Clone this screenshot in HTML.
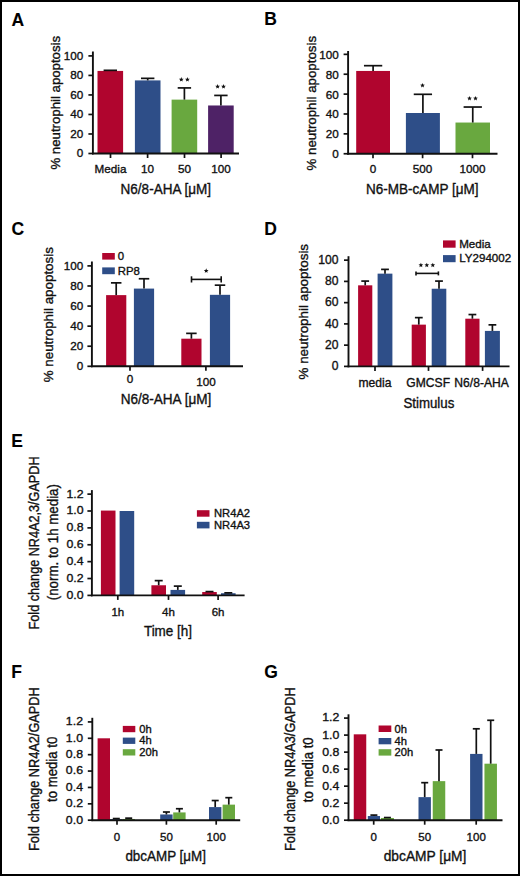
<!DOCTYPE html>
<html><head><meta charset="utf-8"><style>
html,body{margin:0;padding:0;background:#000;}
body{width:520px;height:876px;overflow:hidden;}
svg{display:block;}
text{font-family:"Liberation Sans", sans-serif;stroke:#111;stroke-width:0.35px;}
</style></head><body>
<svg width="520" height="876" viewBox="0 0 520 876">
<rect x="0" y="0" width="520" height="876" fill="#000"/>
<rect x="2" y="2" width="516" height="872" fill="#fff"/>
<text x="11.50" y="25.50" font-size="17.5" text-anchor="start" font-weight="bold" style="stroke-width:0.1px" fill="#000">A</text>
<rect x="97.50" y="70.93" width="25.60" height="82.57" fill="#b0052e"/>
<line x1="110.30" y1="70.93" x2="110.30" y2="70.34" stroke="#111" stroke-width="1.7"/>
<line x1="103.60" y1="70.34" x2="117.00" y2="70.34" stroke="#111" stroke-width="1.7"/>
<rect x="134.90" y="80.40" width="25.60" height="73.10" fill="#2e4e88"/>
<line x1="147.70" y1="80.40" x2="147.70" y2="78.35" stroke="#111" stroke-width="1.7"/>
<line x1="141.00" y1="78.35" x2="154.40" y2="78.35" stroke="#111" stroke-width="1.7"/>
<rect x="171.60" y="99.62" width="25.60" height="53.88" fill="#69a83f"/>
<line x1="184.40" y1="99.62" x2="184.40" y2="87.91" stroke="#111" stroke-width="1.7"/>
<line x1="177.70" y1="87.91" x2="191.10" y2="87.91" stroke="#111" stroke-width="1.7"/>
<rect x="208.10" y="105.48" width="25.60" height="48.02" fill="#4e2266"/>
<line x1="220.90" y1="105.48" x2="220.90" y2="95.43" stroke="#111" stroke-width="1.7"/>
<line x1="214.20" y1="95.43" x2="227.60" y2="95.43" stroke="#111" stroke-width="1.7"/>
<line x1="92.90" y1="51.50" x2="92.90" y2="154.40" stroke="#111" stroke-width="1.9"/>
<line x1="92.00" y1="153.50" x2="239.00" y2="153.50" stroke="#111" stroke-width="1.9"/>
<line x1="88.40" y1="153.50" x2="92.90" y2="153.50" stroke="#111" stroke-width="1.7"/>
<text x="83.20" y="157.30" font-size="11.7" text-anchor="end" font-weight="normal" fill="#111">0</text>
<line x1="88.40" y1="133.98" x2="92.90" y2="133.98" stroke="#111" stroke-width="1.7"/>
<text x="83.20" y="137.78" font-size="11.7" text-anchor="end" font-weight="normal" fill="#111">20</text>
<line x1="88.40" y1="114.46" x2="92.90" y2="114.46" stroke="#111" stroke-width="1.7"/>
<text x="83.20" y="118.26" font-size="11.7" text-anchor="end" font-weight="normal" fill="#111">40</text>
<line x1="88.40" y1="94.94" x2="92.90" y2="94.94" stroke="#111" stroke-width="1.7"/>
<text x="83.20" y="98.74" font-size="11.7" text-anchor="end" font-weight="normal" fill="#111">60</text>
<line x1="88.40" y1="75.42" x2="92.90" y2="75.42" stroke="#111" stroke-width="1.7"/>
<text x="83.20" y="79.22" font-size="11.7" text-anchor="end" font-weight="normal" fill="#111">80</text>
<line x1="88.40" y1="55.90" x2="92.90" y2="55.90" stroke="#111" stroke-width="1.7"/>
<text x="83.20" y="59.70" font-size="11.7" text-anchor="end" font-weight="normal" fill="#111">100</text>
<line x1="110.50" y1="153.50" x2="110.50" y2="158.00" stroke="#111" stroke-width="1.7"/>
<text x="110.50" y="173.40" font-size="11.7" text-anchor="middle" font-weight="normal" fill="#111">Media</text>
<line x1="147.60" y1="153.50" x2="147.60" y2="158.00" stroke="#111" stroke-width="1.7"/>
<text x="147.60" y="173.40" font-size="11.7" text-anchor="middle" font-weight="normal" fill="#111">10</text>
<line x1="184.50" y1="153.50" x2="184.50" y2="158.00" stroke="#111" stroke-width="1.7"/>
<text x="184.50" y="173.40" font-size="11.7" text-anchor="middle" font-weight="normal" fill="#111">50</text>
<line x1="221.10" y1="153.50" x2="221.10" y2="158.00" stroke="#111" stroke-width="1.7"/>
<text x="221.10" y="173.40" font-size="11.7" text-anchor="middle" font-weight="normal" fill="#111">100</text>
<text x="120.60" y="193.70" font-size="14" text-anchor="start" font-weight="normal" textLength="90.39" lengthAdjust="spacingAndGlyphs" fill="#111">N6/8-AHA [μM]</text>
<text x="60.30" y="169.55" font-size="13.3" text-anchor="start" font-weight="normal" transform="rotate(-90 60.30 169.55)" textLength="133.67" lengthAdjust="spacingAndGlyphs" fill="#111">% neutrophil apoptosis</text>
<polygon points="181.30,77.10 181.95,78.71 183.68,78.83 182.35,79.94 182.77,81.62 181.30,80.70 179.83,81.62 180.25,79.94 178.92,78.83 180.65,78.71" fill="#111"/>
<polygon points="187.40,77.10 188.05,78.71 189.78,78.83 188.45,79.94 188.87,81.62 187.40,80.70 185.93,81.62 186.35,79.94 185.02,78.83 186.75,78.71" fill="#111"/>
<polygon points="217.60,84.10 218.25,85.71 219.98,85.83 218.65,86.94 219.07,88.62 217.60,87.70 216.13,88.62 216.55,86.94 215.22,85.83 216.95,85.71" fill="#111"/>
<polygon points="223.50,84.10 224.15,85.71 225.88,85.83 224.55,86.94 224.97,88.62 223.50,87.70 222.03,88.62 222.45,86.94 221.12,85.83 222.85,85.71" fill="#111"/>
<text x="264.20" y="25.40" font-size="17.5" text-anchor="start" font-weight="bold" style="stroke-width:0.1px" fill="#000">B</text>
<rect x="356.20" y="70.95" width="33.80" height="82.80" fill="#b0052e"/>
<line x1="373.10" y1="70.95" x2="373.10" y2="65.68" stroke="#111" stroke-width="1.7"/>
<line x1="363.95" y1="65.68" x2="382.25" y2="65.68" stroke="#111" stroke-width="1.7"/>
<rect x="405.90" y="113.00" width="34.00" height="40.75" fill="#2e4e88"/>
<line x1="422.90" y1="113.00" x2="422.90" y2="94.31" stroke="#111" stroke-width="1.7"/>
<line x1="413.75" y1="94.31" x2="432.05" y2="94.31" stroke="#111" stroke-width="1.7"/>
<rect x="455.50" y="122.54" width="34.50" height="31.21" fill="#69a83f"/>
<line x1="472.75" y1="122.54" x2="472.75" y2="107.03" stroke="#111" stroke-width="1.7"/>
<line x1="463.60" y1="107.03" x2="481.90" y2="107.03" stroke="#111" stroke-width="1.7"/>
<line x1="348.10" y1="51.00" x2="348.10" y2="154.65" stroke="#111" stroke-width="1.9"/>
<line x1="347.20" y1="153.75" x2="497.50" y2="153.75" stroke="#111" stroke-width="1.9"/>
<line x1="343.60" y1="153.75" x2="348.10" y2="153.75" stroke="#111" stroke-width="1.7"/>
<text x="338.80" y="158.15" font-size="11.7" text-anchor="end" font-weight="normal" fill="#111">0</text>
<line x1="343.60" y1="133.87" x2="348.10" y2="133.87" stroke="#111" stroke-width="1.7"/>
<text x="338.80" y="138.27" font-size="11.7" text-anchor="end" font-weight="normal" fill="#111">20</text>
<line x1="343.60" y1="113.99" x2="348.10" y2="113.99" stroke="#111" stroke-width="1.7"/>
<text x="338.80" y="118.39" font-size="11.7" text-anchor="end" font-weight="normal" fill="#111">40</text>
<line x1="343.60" y1="94.11" x2="348.10" y2="94.11" stroke="#111" stroke-width="1.7"/>
<text x="338.80" y="98.51" font-size="11.7" text-anchor="end" font-weight="normal" fill="#111">60</text>
<line x1="343.60" y1="74.23" x2="348.10" y2="74.23" stroke="#111" stroke-width="1.7"/>
<text x="338.80" y="78.63" font-size="11.7" text-anchor="end" font-weight="normal" fill="#111">80</text>
<line x1="343.60" y1="54.35" x2="348.10" y2="54.35" stroke="#111" stroke-width="1.7"/>
<text x="338.80" y="58.75" font-size="11.7" text-anchor="end" font-weight="normal" fill="#111">100</text>
<line x1="373.00" y1="153.75" x2="373.00" y2="158.25" stroke="#111" stroke-width="1.7"/>
<text x="373.00" y="173.40" font-size="11.7" text-anchor="middle" font-weight="normal" fill="#111">0</text>
<line x1="422.60" y1="153.75" x2="422.60" y2="158.25" stroke="#111" stroke-width="1.7"/>
<text x="422.60" y="173.40" font-size="11.7" text-anchor="middle" font-weight="normal" fill="#111">500</text>
<line x1="472.50" y1="153.75" x2="472.50" y2="158.25" stroke="#111" stroke-width="1.7"/>
<text x="472.50" y="173.40" font-size="11.7" text-anchor="middle" font-weight="normal" fill="#111">1000</text>
<text x="366.10" y="193.90" font-size="14" text-anchor="start" font-weight="normal" textLength="112.52" lengthAdjust="spacingAndGlyphs" fill="#111">N6-MB-cAMP [μM]</text>
<text x="316.00" y="170.55" font-size="13.3" text-anchor="start" font-weight="normal" transform="rotate(-90 316.00 170.55)" textLength="134.67" lengthAdjust="spacingAndGlyphs" fill="#111">% neutrophil apoptosis</text>
<polygon points="422.50,83.00 423.15,84.61 424.88,84.73 423.55,85.84 423.97,87.52 422.50,86.60 421.03,87.52 421.45,85.84 420.12,84.73 421.85,84.61" fill="#111"/>
<polygon points="469.50,96.00 470.15,97.61 471.88,97.73 470.55,98.84 470.97,100.52 469.50,99.60 468.03,100.52 468.45,98.84 467.12,97.73 468.85,97.61" fill="#111"/>
<polygon points="475.50,96.00 476.15,97.61 477.88,97.73 476.55,98.84 476.97,100.52 475.50,99.60 474.03,100.52 474.45,98.84 473.12,97.73 474.85,97.61" fill="#111"/>
<text x="11.60" y="235.30" font-size="17.5" text-anchor="start" font-weight="bold" style="stroke-width:0.1px" fill="#000">C</text>
<rect x="106.10" y="295.12" width="20.20" height="71.18" fill="#b0052e"/>
<line x1="116.20" y1="295.12" x2="116.20" y2="282.87" stroke="#111" stroke-width="1.7"/>
<line x1="110.95" y1="282.87" x2="121.45" y2="282.87" stroke="#111" stroke-width="1.7"/>
<rect x="133.90" y="288.59" width="20.20" height="77.71" fill="#2e4e88"/>
<line x1="144.00" y1="288.59" x2="144.00" y2="278.75" stroke="#111" stroke-width="1.7"/>
<line x1="138.75" y1="278.75" x2="149.25" y2="278.75" stroke="#111" stroke-width="1.7"/>
<rect x="181.30" y="338.69" width="20.20" height="27.61" fill="#b0052e"/>
<line x1="191.40" y1="338.69" x2="191.40" y2="333.37" stroke="#111" stroke-width="1.7"/>
<line x1="186.15" y1="333.37" x2="196.65" y2="333.37" stroke="#111" stroke-width="1.7"/>
<rect x="209.90" y="294.82" width="20.20" height="71.48" fill="#2e4e88"/>
<line x1="220.00" y1="294.82" x2="220.00" y2="285.18" stroke="#111" stroke-width="1.7"/>
<line x1="214.75" y1="285.18" x2="225.25" y2="285.18" stroke="#111" stroke-width="1.7"/>
<line x1="91.90" y1="261.50" x2="91.90" y2="367.20" stroke="#111" stroke-width="1.9"/>
<line x1="91.00" y1="366.30" x2="243.00" y2="366.30" stroke="#111" stroke-width="1.9"/>
<line x1="87.40" y1="366.30" x2="91.90" y2="366.30" stroke="#111" stroke-width="1.7"/>
<text x="83.30" y="370.10" font-size="11.7" text-anchor="end" font-weight="normal" fill="#111">0</text>
<line x1="87.40" y1="346.22" x2="91.90" y2="346.22" stroke="#111" stroke-width="1.7"/>
<text x="83.30" y="350.02" font-size="11.7" text-anchor="end" font-weight="normal" fill="#111">20</text>
<line x1="87.40" y1="326.14" x2="91.90" y2="326.14" stroke="#111" stroke-width="1.7"/>
<text x="83.30" y="329.94" font-size="11.7" text-anchor="end" font-weight="normal" fill="#111">40</text>
<line x1="87.40" y1="306.06" x2="91.90" y2="306.06" stroke="#111" stroke-width="1.7"/>
<text x="83.30" y="309.86" font-size="11.7" text-anchor="end" font-weight="normal" fill="#111">60</text>
<line x1="87.40" y1="285.98" x2="91.90" y2="285.98" stroke="#111" stroke-width="1.7"/>
<text x="83.30" y="289.78" font-size="11.7" text-anchor="end" font-weight="normal" fill="#111">80</text>
<line x1="87.40" y1="265.90" x2="91.90" y2="265.90" stroke="#111" stroke-width="1.7"/>
<text x="83.30" y="269.70" font-size="11.7" text-anchor="end" font-weight="normal" fill="#111">100</text>
<line x1="130.00" y1="366.30" x2="130.00" y2="370.80" stroke="#111" stroke-width="1.7"/>
<text x="130.00" y="383.20" font-size="11.7" text-anchor="middle" font-weight="normal" fill="#111">0</text>
<line x1="205.90" y1="366.30" x2="205.90" y2="370.80" stroke="#111" stroke-width="1.7"/>
<text x="205.90" y="386.40" font-size="11.7" text-anchor="middle" font-weight="normal" fill="#111">100</text>
<text x="120.65" y="403.80" font-size="14" text-anchor="start" font-weight="normal" textLength="90.69" lengthAdjust="spacingAndGlyphs" fill="#111">N6/8-AHA [μM]</text>
<text x="52.60" y="382.30" font-size="13.3" text-anchor="start" font-weight="normal" transform="rotate(-90 52.60 382.30)" textLength="135.17" lengthAdjust="spacingAndGlyphs" fill="#111">% neutrophil apoptosis</text>
<polygon points="206.20,268.35 206.85,269.96 208.58,270.08 207.25,271.19 207.67,272.87 206.20,271.95 204.73,272.87 205.15,271.19 203.82,270.08 205.55,269.96" fill="#111"/>
<rect x="102.20" y="253.00" width="12.60" height="6.60" fill="#b0052e"/>
<text x="117.70" y="260.00" font-size="11.4" text-anchor="start" font-weight="normal" fill="#111">0</text>
<rect x="102.20" y="267.40" width="12.60" height="6.80" fill="#2e4e88"/>
<text x="117.70" y="274.50" font-size="11.4" text-anchor="start" font-weight="normal" fill="#111">RP8</text>
<line x1="191.50" y1="279.40" x2="221.20" y2="279.40" stroke="#111" stroke-width="1.6"/>
<line x1="191.50" y1="276.30" x2="191.50" y2="282.50" stroke="#111" stroke-width="1.6"/>
<line x1="221.20" y1="276.30" x2="221.20" y2="282.50" stroke="#111" stroke-width="1.6"/>
<text x="264.20" y="235.30" font-size="17.5" text-anchor="start" font-weight="bold" style="stroke-width:0.1px" fill="#000">D</text>
<rect x="358.10" y="285.33" width="14.20" height="81.07" fill="#b0052e"/>
<line x1="365.20" y1="285.33" x2="365.20" y2="281.08" stroke="#111" stroke-width="1.7"/>
<line x1="361.30" y1="281.08" x2="369.10" y2="281.08" stroke="#111" stroke-width="1.7"/>
<rect x="377.60" y="273.64" width="14.80" height="92.76" fill="#2e4e88"/>
<line x1="385.00" y1="273.64" x2="385.00" y2="269.39" stroke="#111" stroke-width="1.7"/>
<line x1="381.10" y1="269.39" x2="388.90" y2="269.39" stroke="#111" stroke-width="1.7"/>
<rect x="411.70" y="324.64" width="14.20" height="41.76" fill="#b0052e"/>
<line x1="418.80" y1="324.64" x2="418.80" y2="317.63" stroke="#111" stroke-width="1.7"/>
<line x1="414.90" y1="317.63" x2="422.70" y2="317.63" stroke="#111" stroke-width="1.7"/>
<rect x="431.70" y="288.73" width="14.60" height="77.67" fill="#2e4e88"/>
<line x1="439.00" y1="288.73" x2="439.00" y2="281.08" stroke="#111" stroke-width="1.7"/>
<line x1="435.10" y1="281.08" x2="442.90" y2="281.08" stroke="#111" stroke-width="1.7"/>
<rect x="465.30" y="318.69" width="14.20" height="47.71" fill="#b0052e"/>
<line x1="472.40" y1="318.69" x2="472.40" y2="314.55" stroke="#111" stroke-width="1.7"/>
<line x1="468.50" y1="314.55" x2="476.30" y2="314.55" stroke="#111" stroke-width="1.7"/>
<rect x="484.90" y="330.91" width="15.00" height="35.49" fill="#2e4e88"/>
<line x1="492.40" y1="330.91" x2="492.40" y2="324.86" stroke="#111" stroke-width="1.7"/>
<line x1="488.50" y1="324.86" x2="496.30" y2="324.86" stroke="#111" stroke-width="1.7"/>
<line x1="348.50" y1="256.20" x2="348.50" y2="367.30" stroke="#111" stroke-width="1.9"/>
<line x1="347.60" y1="366.40" x2="509.50" y2="366.40" stroke="#111" stroke-width="1.9"/>
<line x1="344.00" y1="366.40" x2="348.50" y2="366.40" stroke="#111" stroke-width="1.7"/>
<text x="338.50" y="370.20" font-size="12.1" text-anchor="end" font-weight="normal" fill="#111">0</text>
<line x1="344.00" y1="345.15" x2="348.50" y2="345.15" stroke="#111" stroke-width="1.7"/>
<text x="338.50" y="348.95" font-size="12.1" text-anchor="end" font-weight="normal" fill="#111">20</text>
<line x1="344.00" y1="323.90" x2="348.50" y2="323.90" stroke="#111" stroke-width="1.7"/>
<text x="338.50" y="327.70" font-size="12.1" text-anchor="end" font-weight="normal" fill="#111">40</text>
<line x1="344.00" y1="302.65" x2="348.50" y2="302.65" stroke="#111" stroke-width="1.7"/>
<text x="338.50" y="306.45" font-size="12.1" text-anchor="end" font-weight="normal" fill="#111">60</text>
<line x1="344.00" y1="281.40" x2="348.50" y2="281.40" stroke="#111" stroke-width="1.7"/>
<text x="338.50" y="285.20" font-size="12.1" text-anchor="end" font-weight="normal" fill="#111">80</text>
<line x1="344.00" y1="260.15" x2="348.50" y2="260.15" stroke="#111" stroke-width="1.7"/>
<text x="338.50" y="263.95" font-size="12.1" text-anchor="end" font-weight="normal" fill="#111">100</text>
<line x1="375.00" y1="366.40" x2="375.00" y2="370.90" stroke="#111" stroke-width="1.7"/>
<text x="375.00" y="386.70" font-size="12.1" text-anchor="middle" font-weight="normal" fill="#111">media</text>
<line x1="428.50" y1="366.40" x2="428.50" y2="370.90" stroke="#111" stroke-width="1.7"/>
<text x="428.20" y="386.70" font-size="12.1" text-anchor="middle" font-weight="normal" fill="#111">GMCSF</text>
<line x1="482.60" y1="366.40" x2="482.60" y2="370.90" stroke="#111" stroke-width="1.7"/>
<text x="481.60" y="386.70" font-size="12.1" text-anchor="middle" font-weight="normal" fill="#111">N6/8-AHA</text>
<text x="403.40" y="407.50" font-size="14" text-anchor="start" font-weight="normal" textLength="50.89" lengthAdjust="spacingAndGlyphs" fill="#111">Stimulus</text>
<text x="308.30" y="379.50" font-size="13.3" text-anchor="start" font-weight="normal" transform="rotate(-90 308.30 379.50)" textLength="135.57" lengthAdjust="spacingAndGlyphs" fill="#111">% neutrophil apoptosis</text>
<polygon points="420.90,262.70 421.55,264.31 423.28,264.43 421.95,265.54 422.37,267.22 420.90,266.30 419.43,267.22 419.85,265.54 418.52,264.43 420.25,264.31" fill="#111"/>
<polygon points="426.80,262.70 427.45,264.31 429.18,264.43 427.85,265.54 428.27,267.22 426.80,266.30 425.33,267.22 425.75,265.54 424.42,264.43 426.15,264.31" fill="#111"/>
<polygon points="432.80,262.70 433.45,264.31 435.18,264.43 433.85,265.54 434.27,267.22 432.80,266.30 431.33,267.22 431.75,265.54 430.42,264.43 432.15,264.31" fill="#111"/>
<rect x="443.00" y="240.40" width="12.60" height="7.30" fill="#b0052e"/>
<text x="459.20" y="247.50" font-size="11.6" text-anchor="start" font-weight="normal" fill="#111">Media</text>
<rect x="443.00" y="255.10" width="12.60" height="7.10" fill="#2e4e88"/>
<text x="459.20" y="262.00" font-size="11.6" text-anchor="start" font-weight="normal" fill="#111">LY294002</text>
<line x1="416.00" y1="273.40" x2="438.40" y2="273.40" stroke="#111" stroke-width="1.6"/>
<line x1="416.00" y1="271.40" x2="416.00" y2="275.40" stroke="#111" stroke-width="1.6"/>
<line x1="438.40" y1="271.40" x2="438.40" y2="275.40" stroke="#111" stroke-width="1.6"/>
<text x="11.20" y="446.70" font-size="17.5" text-anchor="start" font-weight="bold" style="stroke-width:0.1px" fill="#000">E</text>
<rect x="100.90" y="510.58" width="14.60" height="84.82" fill="#b0052e"/>
<rect x="119.60" y="511.00" width="14.60" height="84.40" fill="#2e4e88"/>
<rect x="151.40" y="585.27" width="14.60" height="10.13" fill="#b0052e"/>
<line x1="158.70" y1="585.27" x2="158.70" y2="580.63" stroke="#111" stroke-width="1.7"/>
<line x1="154.70" y1="580.63" x2="162.70" y2="580.63" stroke="#111" stroke-width="1.7"/>
<rect x="170.50" y="589.91" width="14.60" height="5.49" fill="#2e4e88"/>
<line x1="177.80" y1="589.91" x2="177.80" y2="586.12" stroke="#111" stroke-width="1.7"/>
<line x1="173.80" y1="586.12" x2="181.80" y2="586.12" stroke="#111" stroke-width="1.7"/>
<rect x="202.20" y="592.02" width="14.60" height="3.38" fill="#b0052e"/>
<line x1="209.50" y1="592.02" x2="209.50" y2="591.60" stroke="#111" stroke-width="1.7"/>
<line x1="205.50" y1="591.60" x2="213.50" y2="591.60" stroke="#111" stroke-width="1.7"/>
<rect x="221.00" y="593.21" width="14.60" height="2.19" fill="#2e4e88"/>
<line x1="228.30" y1="593.21" x2="228.30" y2="592.87" stroke="#111" stroke-width="1.7"/>
<line x1="224.30" y1="592.87" x2="232.30" y2="592.87" stroke="#111" stroke-width="1.7"/>
<line x1="91.90" y1="490.10" x2="91.90" y2="596.30" stroke="#111" stroke-width="1.9"/>
<line x1="91.00" y1="595.40" x2="244.60" y2="595.40" stroke="#111" stroke-width="1.9"/>
<line x1="87.40" y1="595.40" x2="91.90" y2="595.40" stroke="#111" stroke-width="1.7"/>
<text x="83.60" y="598.80" font-size="11.5" text-anchor="end" font-weight="normal" textLength="17.11" lengthAdjust="spacingAndGlyphs" fill="#111">0.0</text>
<line x1="87.40" y1="578.52" x2="91.90" y2="578.52" stroke="#111" stroke-width="1.7"/>
<text x="83.60" y="581.92" font-size="11.5" text-anchor="end" font-weight="normal" textLength="17.11" lengthAdjust="spacingAndGlyphs" fill="#111">0.2</text>
<line x1="87.40" y1="561.64" x2="91.90" y2="561.64" stroke="#111" stroke-width="1.7"/>
<text x="83.60" y="565.04" font-size="11.5" text-anchor="end" font-weight="normal" textLength="17.11" lengthAdjust="spacingAndGlyphs" fill="#111">0.4</text>
<line x1="87.40" y1="544.76" x2="91.90" y2="544.76" stroke="#111" stroke-width="1.7"/>
<text x="83.60" y="548.16" font-size="11.5" text-anchor="end" font-weight="normal" textLength="17.11" lengthAdjust="spacingAndGlyphs" fill="#111">0.6</text>
<line x1="87.40" y1="527.88" x2="91.90" y2="527.88" stroke="#111" stroke-width="1.7"/>
<text x="83.60" y="531.28" font-size="11.5" text-anchor="end" font-weight="normal" textLength="17.11" lengthAdjust="spacingAndGlyphs" fill="#111">0.8</text>
<line x1="87.40" y1="511.00" x2="91.90" y2="511.00" stroke="#111" stroke-width="1.7"/>
<text x="83.60" y="514.40" font-size="11.5" text-anchor="end" font-weight="normal" textLength="17.11" lengthAdjust="spacingAndGlyphs" fill="#111">1.0</text>
<line x1="87.40" y1="494.12" x2="91.90" y2="494.12" stroke="#111" stroke-width="1.7"/>
<text x="83.60" y="497.52" font-size="11.5" text-anchor="end" font-weight="normal" textLength="17.11" lengthAdjust="spacingAndGlyphs" fill="#111">1.2</text>
<line x1="117.80" y1="595.40" x2="117.80" y2="599.90" stroke="#111" stroke-width="1.7"/>
<text x="117.80" y="615.90" font-size="11.5" text-anchor="middle" font-weight="normal" fill="#111">1h</text>
<line x1="168.50" y1="595.40" x2="168.50" y2="599.90" stroke="#111" stroke-width="1.7"/>
<text x="168.50" y="615.90" font-size="11.5" text-anchor="middle" font-weight="normal" fill="#111">4h</text>
<line x1="218.10" y1="595.40" x2="218.10" y2="599.90" stroke="#111" stroke-width="1.7"/>
<text x="218.10" y="615.90" font-size="11.5" text-anchor="middle" font-weight="normal" fill="#111">6h</text>
<text x="143.90" y="636.00" font-size="14" text-anchor="start" font-weight="normal" textLength="48.20" lengthAdjust="spacingAndGlyphs" fill="#111">Time [h]</text>
<text x="39.20" y="629.40" font-size="14.4" text-anchor="start" font-weight="normal" transform="rotate(-90 39.20 629.40)" textLength="172.98" lengthAdjust="spacingAndGlyphs" fill="#111">Fold change NR4A2,3/GAPDH</text>
<text x="57.50" y="600.25" font-size="14.2" text-anchor="start" font-weight="normal" transform="rotate(-90 57.50 600.25)" textLength="116.21" lengthAdjust="spacingAndGlyphs" fill="#111">(norm. to 1h media)</text>
<rect x="196.90" y="510.20" width="12.60" height="6.50" fill="#b0052e"/>
<text x="214.00" y="517.40" font-size="11.2" text-anchor="start" font-weight="normal" fill="#111">NR4A2</text>
<rect x="196.90" y="521.80" width="12.60" height="6.60" fill="#2e4e88"/>
<text x="214.00" y="528.70" font-size="11.2" text-anchor="start" font-weight="normal" fill="#111">NR4A3</text>
<text x="11.20" y="678.40" font-size="17.5" text-anchor="start" font-weight="bold" style="stroke-width:0.1px" fill="#000">F</text>
<rect x="97.60" y="738.30" width="12.40" height="81.90" fill="#b0052e"/>
<rect x="110.10" y="819.22" width="12.40" height="0.98" fill="#2e4e88"/>
<line x1="116.30" y1="819.22" x2="116.30" y2="818.56" stroke="#111" stroke-width="1.7"/>
<line x1="112.80" y1="818.56" x2="119.80" y2="818.56" stroke="#111" stroke-width="1.7"/>
<rect x="122.50" y="818.97" width="12.40" height="1.23" fill="#69a83f"/>
<line x1="128.70" y1="818.97" x2="128.70" y2="818.15" stroke="#111" stroke-width="1.7"/>
<line x1="125.20" y1="818.15" x2="132.20" y2="818.15" stroke="#111" stroke-width="1.7"/>
<rect x="160.20" y="814.47" width="12.40" height="5.73" fill="#2e4e88"/>
<line x1="166.40" y1="814.47" x2="166.40" y2="812.01" stroke="#111" stroke-width="1.7"/>
<line x1="162.90" y1="812.01" x2="169.90" y2="812.01" stroke="#111" stroke-width="1.7"/>
<rect x="173.20" y="812.42" width="12.40" height="7.78" fill="#69a83f"/>
<line x1="179.40" y1="812.42" x2="179.40" y2="808.73" stroke="#111" stroke-width="1.7"/>
<line x1="175.90" y1="808.73" x2="182.90" y2="808.73" stroke="#111" stroke-width="1.7"/>
<rect x="209.00" y="807.10" width="12.40" height="13.10" fill="#2e4e88"/>
<line x1="215.20" y1="807.10" x2="215.20" y2="800.54" stroke="#111" stroke-width="1.7"/>
<line x1="211.70" y1="800.54" x2="218.70" y2="800.54" stroke="#111" stroke-width="1.7"/>
<rect x="222.60" y="804.64" width="12.40" height="15.56" fill="#69a83f"/>
<line x1="228.80" y1="804.64" x2="228.80" y2="797.68" stroke="#111" stroke-width="1.7"/>
<line x1="225.30" y1="797.68" x2="232.30" y2="797.68" stroke="#111" stroke-width="1.7"/>
<line x1="92.30" y1="717.80" x2="92.30" y2="821.10" stroke="#111" stroke-width="1.9"/>
<line x1="91.40" y1="820.20" x2="240.20" y2="820.20" stroke="#111" stroke-width="1.9"/>
<line x1="87.80" y1="820.20" x2="92.30" y2="820.20" stroke="#111" stroke-width="1.7"/>
<text x="83.00" y="823.60" font-size="11.5" text-anchor="end" font-weight="normal" textLength="17.11" lengthAdjust="spacingAndGlyphs" fill="#111">0.0</text>
<line x1="87.80" y1="803.82" x2="92.30" y2="803.82" stroke="#111" stroke-width="1.7"/>
<text x="83.00" y="807.22" font-size="11.5" text-anchor="end" font-weight="normal" textLength="17.11" lengthAdjust="spacingAndGlyphs" fill="#111">0.2</text>
<line x1="87.80" y1="787.44" x2="92.30" y2="787.44" stroke="#111" stroke-width="1.7"/>
<text x="83.00" y="790.84" font-size="11.5" text-anchor="end" font-weight="normal" textLength="17.11" lengthAdjust="spacingAndGlyphs" fill="#111">0.4</text>
<line x1="87.80" y1="771.06" x2="92.30" y2="771.06" stroke="#111" stroke-width="1.7"/>
<text x="83.00" y="774.46" font-size="11.5" text-anchor="end" font-weight="normal" textLength="17.11" lengthAdjust="spacingAndGlyphs" fill="#111">0.6</text>
<line x1="87.80" y1="754.68" x2="92.30" y2="754.68" stroke="#111" stroke-width="1.7"/>
<text x="83.00" y="758.08" font-size="11.5" text-anchor="end" font-weight="normal" textLength="17.11" lengthAdjust="spacingAndGlyphs" fill="#111">0.8</text>
<line x1="87.80" y1="738.30" x2="92.30" y2="738.30" stroke="#111" stroke-width="1.7"/>
<text x="83.00" y="741.70" font-size="11.5" text-anchor="end" font-weight="normal" textLength="17.11" lengthAdjust="spacingAndGlyphs" fill="#111">1.0</text>
<line x1="87.80" y1="721.92" x2="92.30" y2="721.92" stroke="#111" stroke-width="1.7"/>
<text x="83.00" y="725.32" font-size="11.5" text-anchor="end" font-weight="normal" textLength="17.11" lengthAdjust="spacingAndGlyphs" fill="#111">1.2</text>
<line x1="117.00" y1="820.20" x2="117.00" y2="824.70" stroke="#111" stroke-width="1.7"/>
<text x="117.00" y="840.90" font-size="11.5" text-anchor="middle" font-weight="normal" fill="#111">0</text>
<line x1="166.40" y1="820.20" x2="166.40" y2="824.70" stroke="#111" stroke-width="1.7"/>
<text x="166.40" y="840.90" font-size="11.5" text-anchor="middle" font-weight="normal" fill="#111">50</text>
<line x1="216.20" y1="820.20" x2="216.20" y2="824.70" stroke="#111" stroke-width="1.7"/>
<text x="216.20" y="840.90" font-size="11.5" text-anchor="middle" font-weight="normal" fill="#111">100</text>
<text x="125.40" y="861.10" font-size="14" text-anchor="start" font-weight="normal" textLength="80.59" lengthAdjust="spacingAndGlyphs" fill="#111">dbcAMP [μM]</text>
<text x="39.30" y="850.95" font-size="14.4" text-anchor="start" font-weight="normal" transform="rotate(-90 39.30 850.95)" textLength="163.70" lengthAdjust="spacingAndGlyphs" fill="#111">Fold change NR4A2/GAPDH</text>
<text x="57.20" y="801.95" font-size="14.2" text-anchor="start" font-weight="normal" transform="rotate(-90 57.20 801.95)" textLength="65.23" lengthAdjust="spacingAndGlyphs" fill="#111">to media t0</text>
<rect x="122.80" y="725.90" width="12.50" height="6.30" fill="#b0052e"/>
<text x="139.30" y="732.70" font-size="11.2" text-anchor="start" font-weight="normal" fill="#111">0h</text>
<rect x="122.80" y="737.60" width="12.50" height="6.30" fill="#2e4e88"/>
<text x="139.30" y="744.30" font-size="11.2" text-anchor="start" font-weight="normal" fill="#111">4h</text>
<rect x="122.80" y="749.20" width="12.50" height="6.30" fill="#69a83f"/>
<text x="139.30" y="756.00" font-size="11.2" text-anchor="start" font-weight="normal" fill="#111">20h</text>
<text x="264.30" y="678.20" font-size="17.5" text-anchor="start" font-weight="bold" style="stroke-width:0.1px" fill="#000">G</text>
<rect x="353.75" y="734.33" width="12.50" height="85.87" fill="#b0052e"/>
<rect x="367.80" y="816.03" width="12.20" height="4.17" fill="#2e4e88"/>
<line x1="373.90" y1="816.03" x2="373.90" y2="815.09" stroke="#111" stroke-width="1.7"/>
<line x1="370.40" y1="815.09" x2="377.40" y2="815.09" stroke="#111" stroke-width="1.7"/>
<rect x="380.90" y="817.99" width="13.00" height="2.21" fill="#69a83f"/>
<line x1="387.40" y1="817.99" x2="387.40" y2="817.56" stroke="#111" stroke-width="1.7"/>
<line x1="383.90" y1="817.56" x2="390.90" y2="817.56" stroke="#111" stroke-width="1.7"/>
<rect x="418.50" y="797.14" width="12.40" height="23.06" fill="#2e4e88"/>
<line x1="424.70" y1="797.14" x2="424.70" y2="782.67" stroke="#111" stroke-width="1.7"/>
<line x1="421.20" y1="782.67" x2="428.20" y2="782.67" stroke="#111" stroke-width="1.7"/>
<rect x="432.75" y="781.14" width="12.50" height="39.06" fill="#69a83f"/>
<line x1="439.00" y1="781.14" x2="439.00" y2="749.99" stroke="#111" stroke-width="1.7"/>
<line x1="435.50" y1="749.99" x2="442.50" y2="749.99" stroke="#111" stroke-width="1.7"/>
<rect x="470.10" y="753.91" width="12.40" height="66.29" fill="#2e4e88"/>
<line x1="476.30" y1="753.91" x2="476.30" y2="728.80" stroke="#111" stroke-width="1.7"/>
<line x1="472.80" y1="728.80" x2="479.80" y2="728.80" stroke="#111" stroke-width="1.7"/>
<rect x="484.45" y="763.69" width="12.50" height="56.51" fill="#69a83f"/>
<line x1="490.70" y1="763.69" x2="490.70" y2="720.29" stroke="#111" stroke-width="1.7"/>
<line x1="487.20" y1="720.29" x2="494.20" y2="720.29" stroke="#111" stroke-width="1.7"/>
<line x1="348.50" y1="714.30" x2="348.50" y2="821.10" stroke="#111" stroke-width="1.9"/>
<line x1="347.60" y1="820.20" x2="502.50" y2="820.20" stroke="#111" stroke-width="1.9"/>
<line x1="344.00" y1="820.20" x2="348.50" y2="820.20" stroke="#111" stroke-width="1.7"/>
<text x="339.30" y="823.60" font-size="11.5" text-anchor="end" font-weight="normal" textLength="17.11" lengthAdjust="spacingAndGlyphs" fill="#111">0.0</text>
<line x1="344.00" y1="803.18" x2="348.50" y2="803.18" stroke="#111" stroke-width="1.7"/>
<text x="339.30" y="806.58" font-size="11.5" text-anchor="end" font-weight="normal" textLength="17.11" lengthAdjust="spacingAndGlyphs" fill="#111">0.2</text>
<line x1="344.00" y1="786.16" x2="348.50" y2="786.16" stroke="#111" stroke-width="1.7"/>
<text x="339.30" y="789.56" font-size="11.5" text-anchor="end" font-weight="normal" textLength="17.11" lengthAdjust="spacingAndGlyphs" fill="#111">0.4</text>
<line x1="344.00" y1="769.14" x2="348.50" y2="769.14" stroke="#111" stroke-width="1.7"/>
<text x="339.30" y="772.54" font-size="11.5" text-anchor="end" font-weight="normal" textLength="17.11" lengthAdjust="spacingAndGlyphs" fill="#111">0.6</text>
<line x1="344.00" y1="752.12" x2="348.50" y2="752.12" stroke="#111" stroke-width="1.7"/>
<text x="339.30" y="755.52" font-size="11.5" text-anchor="end" font-weight="normal" textLength="17.11" lengthAdjust="spacingAndGlyphs" fill="#111">0.8</text>
<line x1="344.00" y1="735.10" x2="348.50" y2="735.10" stroke="#111" stroke-width="1.7"/>
<text x="339.30" y="738.50" font-size="11.5" text-anchor="end" font-weight="normal" textLength="17.11" lengthAdjust="spacingAndGlyphs" fill="#111">1.0</text>
<line x1="344.00" y1="718.08" x2="348.50" y2="718.08" stroke="#111" stroke-width="1.7"/>
<text x="339.30" y="721.48" font-size="11.5" text-anchor="end" font-weight="normal" textLength="17.11" lengthAdjust="spacingAndGlyphs" fill="#111">1.2</text>
<line x1="373.70" y1="820.20" x2="373.70" y2="824.70" stroke="#111" stroke-width="1.7"/>
<text x="373.70" y="840.90" font-size="11.5" text-anchor="middle" font-weight="normal" fill="#111">0</text>
<line x1="424.70" y1="820.20" x2="424.70" y2="824.70" stroke="#111" stroke-width="1.7"/>
<text x="424.70" y="840.90" font-size="11.5" text-anchor="middle" font-weight="normal" fill="#111">50</text>
<line x1="476.20" y1="820.20" x2="476.20" y2="824.70" stroke="#111" stroke-width="1.7"/>
<text x="476.20" y="840.90" font-size="11.5" text-anchor="middle" font-weight="normal" fill="#111">100</text>
<text x="383.70" y="861.10" font-size="14" text-anchor="start" font-weight="normal" textLength="82.69" lengthAdjust="spacingAndGlyphs" fill="#111">dbcAMP [μM]</text>
<text x="295.30" y="850.95" font-size="14.4" text-anchor="start" font-weight="normal" transform="rotate(-90 295.30 850.95)" textLength="163.70" lengthAdjust="spacingAndGlyphs" fill="#111">Fold change NR4A3/GAPDH</text>
<text x="313.00" y="802.15" font-size="14.2" text-anchor="start" font-weight="normal" transform="rotate(-90 313.00 802.15)" textLength="64.73" lengthAdjust="spacingAndGlyphs" fill="#111">to media t0</text>
<rect x="378.60" y="725.50" width="12.70" height="6.50" fill="#b0052e"/>
<text x="394.50" y="732.50" font-size="11.2" text-anchor="start" font-weight="normal" fill="#111">0h</text>
<rect x="378.60" y="738.00" width="12.70" height="6.30" fill="#2e4e88"/>
<text x="394.50" y="744.60" font-size="11.2" text-anchor="start" font-weight="normal" fill="#111">4h</text>
<rect x="378.60" y="749.20" width="12.70" height="6.40" fill="#69a83f"/>
<text x="394.50" y="756.20" font-size="11.2" text-anchor="start" font-weight="normal" fill="#111">20h</text>
</svg>
</body></html>
